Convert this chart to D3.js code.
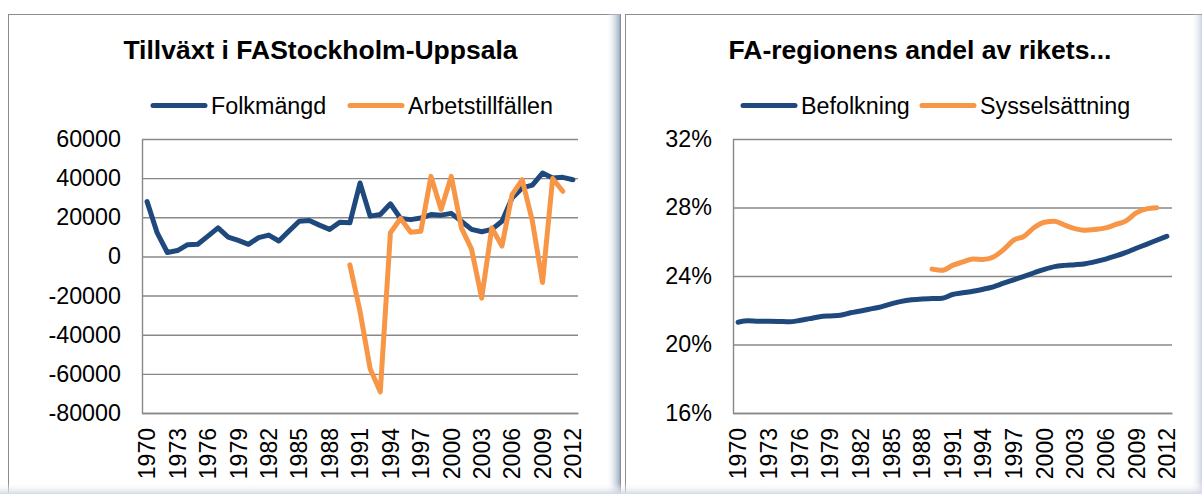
<!DOCTYPE html>
<html>
<head>
<meta charset="utf-8">
<script src="https://cdn.jsdelivr.net/npm/d3@7"></script>
<style>
  body { margin: 0; background: #fff; }
  svg { display: block; font-family: "Liberation Sans", Arial, sans-serif; }
</style>
</head>
<body>
<div id="chart"></div>
<script>
// data
var years = [1970, 1971, 1972, 1973, 1974, 1975, 1976, 1977, 1978, 1979,
  1980, 1981, 1982, 1983, 1984, 1985, 1986, 1987, 1988, 1989,
  1990, 1991, 1992, 1993, 1994, 1995, 1996, 1997, 1998, 1999,
  2000, 2001, 2002, 2003, 2004, 2005, 2006, 2007, 2008, 2009,
  2010, 2011, 2012];
var yearLabels = [1970, 1973, 1976, 1979, 1982, 1985, 1988, 1991, 1994, 1997, 2000, 2003, 2006, 2009, 2012];

var folkmangd = [28000, 12000, 2000, 3000, 6000, 6200, 10400, 14600, 9900, 8200,
  6200, 9600, 10900, 7900, 13000, 18000, 18400, 16000, 13800, 17500,
  17200, 37500, 20600, 21400, 26900, 19400, 18800, 19600, 21400, 21100,
  22000, 18000, 13800, 12600, 13800, 18000, 29900, 35000, 36400, 42600,
  40100, 40400, 39200];
var arbetstillfallen = [null, null, null, null, null, null, null, null, null, null,
  null, null, null, null, null, null, null, null, null, null,
  -4300, -28000, -57400, -69200, 12100, 19400, 12400, 12900, 40900, 24000,
  40900, 14600, 3700, -21300, 14600, 5300, 31600, 39200, 18000, -13300,
  39800, 33300, null];
var tillvaxtTicks = [60000, 40000, 20000, 0, -20000, -40000, -60000, -80000];

var befolkning = [21.30, 21.38, 21.36, 21.36, 21.35, 21.33, 21.40, 21.51, 21.62, 21.67,
  21.71, 21.85, 21.96, 22.08, 22.20, 22.37, 22.52, 22.61, 22.66, 22.68,
  22.70, 22.92, 23.02, 23.11, 23.23, 23.37, 23.58, 23.78, 23.98, 24.19,
  24.39, 24.55, 24.62, 24.66, 24.72, 24.84, 24.99, 25.17, 25.38, 25.62,
  25.85, 26.09, 26.32];
var sysselsattning = [null, null, null, null, null, null, null, null, null, null,
  null, null, null, null, null, null, null, null, null, 24.40,
  24.33, 24.62, 24.82, 24.99, 24.96, 25.11, 25.54, 26.09, 26.32, 26.83,
  27.14, 27.20, 26.97, 26.77, 26.67, 26.72, 26.81, 27.01, 27.22, 27.69,
  27.92, 27.98, null];
var andelTicks = [32, 28, 24, 20, 16];

var blue = "#1f497d";
var orange = "#f79646";
var gridColor = "#888888";

var svg = d3.select("#chart")
  .append("svg")
  .attr("width", 1202)
  .attr("height", 494);

var defs = svg.append("defs");
var gRight = defs.append("linearGradient").attr("id", "shadeRight")
  .attr("x1", 0).attr("x2", 1).attr("y1", 0).attr("y2", 0);
gRight.append("stop").attr("offset", 0).attr("stop-color", "#fff").attr("stop-opacity", 0);
gRight.append("stop").attr("offset", 1).attr("stop-color", "#9aabc3");
var gBottom = defs.append("linearGradient").attr("id", "shadeBottom")
  .attr("x1", 0).attr("x2", 0).attr("y1", 0).attr("y2", 1);
gBottom.append("stop").attr("offset", 0).attr("stop-color", "#fff").attr("stop-opacity", 0);
gBottom.append("stop").attr("offset", 1).attr("stop-color", "#d3d9e3");

// panels
svg.append("rect")
  .attr("x", 8.5).attr("y", 14.5).attr("width", 612).attr("height", 500)
  .attr("fill", "#fff").attr("stroke", "#8c8c8c");
svg.append("rect")
  .attr("x", 625.5).attr("y", 14.5).attr("width", 600).attr("height", 500)
  .attr("fill", "#fff").attr("stroke", "#8c8c8c");

function drawChart(cfg) {
  var x = d3.scaleBand().domain(years).range([cfg.left, cfg.right]);
  var y = d3.scaleLinear().domain(cfg.domain).range([413, 139]);
  var g = svg.append("g");

  g.append("text")
    .attr("x", cfg.titleX).attr("y", 58.5)
    .attr("text-anchor", "middle")
    .style("font-size", "26.5px").style("font-weight", "bold")
    .text(cfg.title);

  // legend
  cfg.series.forEach(function (s, i) {
    var lx = cfg.legendX[i];
    g.append("line")
      .attr("x1", lx).attr("x2", lx + 52)
      .attr("y1", 105.5).attr("y2", 105.5)
      .attr("stroke", s.color).attr("stroke-width", 5)
      .attr("stroke-linecap", "round");
    g.append("text")
      .attr("x", lx + 58).attr("y", 113.5)
      .style("font-size", "23.3px")
      .text(s.name);
  });

  // grid
  g.append("g")
    .attr("transform", "translate(" + cfg.left + ",0)")
    .call(d3.axisLeft(y).tickValues(cfg.ticks).tickSize(-(cfg.right - cfg.left)).tickFormat(""))
    .call(function (a) { a.select(".domain").remove(); })
    .selectAll("line")
    .attr("stroke", gridColor).attr("stroke-width", 1.4);

  // y axis
  var ya = g.append("g")
    .attr("transform", "translate(" + cfg.left + ",0)")
    .call(d3.axisLeft(y).tickValues(cfg.ticks).tickSize(0).tickPadding(21).tickFormat(cfg.format));
  ya.select(".domain").attr("stroke", gridColor).attr("stroke-width", 1.4);
  ya.selectAll("text").style("font-size", "23.3px").attr("fill", "#000");

  // x axis
  var xa = g.append("g")
    .attr("transform", "translate(0,413)")
    .call(d3.axisBottom(x).tickValues(yearLabels).tickSize(0));
  xa.select(".domain").attr("stroke", gridColor).attr("stroke-width", 1.4);
  xa.selectAll("text")
    .attr("transform", "rotate(-90)")
    .attr("x", -15).attr("y", 0).attr("dy", "0.36em")
    .attr("text-anchor", "end")
    .attr("fill", "#000")
    .style("font-size", "23px");

  cfg.series.forEach(function (s) {
    var line = d3.line()
      .defined(function (d) { return d != null; })
      .x(function (d, i) { return x(years[i]) + x.bandwidth() / 2; })
      .y(function (d) { return y(d); })
      .curve(cfg.curve);
    g.append("path")
      .datum(s.values)
      .attr("d", line)
      .attr("fill", "none")
      .attr("stroke", s.color)
      .attr("stroke-width", 5)
      .attr("stroke-linejoin", "round")
      .attr("stroke-linecap", "round");
  });
}

drawChart({
  title: "Tillväxt i FAStockholm-Uppsala",
  titleX: 320.5,
  left: 142, right: 578,
  domain: [-80000, 60000],
  ticks: tillvaxtTicks,
  format: function (d) { return String(d); },
  legendX: [153, 350],
  curve: d3.curveLinear,
  series: [
    { name: "Folkmängd", color: blue, values: folkmangd },
    { name: "Arbetstillfällen", color: orange, values: arbetstillfallen }
  ]
});

drawChart({
  title: "FA-regionens andel av rikets...",
  titleX: 920,
  left: 733, right: 1172,
  domain: [16, 32],
  ticks: andelTicks,
  format: function (d) { return d + "%"; },
  legendX: [743, 922],
  curve: d3.curveMonotoneX,
  series: [
    { name: "Befolkning", color: blue, values: befolkning },
    { name: "Sysselsättning", color: orange, values: sysselsattning }
  ]
});

// shadows at panel edges
svg.append("rect").attr("x", 606).attr("y", 14).attr("width", 14).attr("height", 480)
  .attr("fill", "url(#shadeRight)");
svg.append("rect").attr("x", 1190).attr("y", 14).attr("width", 12).attr("height", 480)
  .attr("fill", "url(#shadeRight)").attr("opacity", 0.5);
svg.append("rect").attr("x", 0).attr("y", 483).attr("width", 1202).attr("height", 11)
  .attr("fill", "url(#shadeBottom)");
</script>
</body>
</html>
